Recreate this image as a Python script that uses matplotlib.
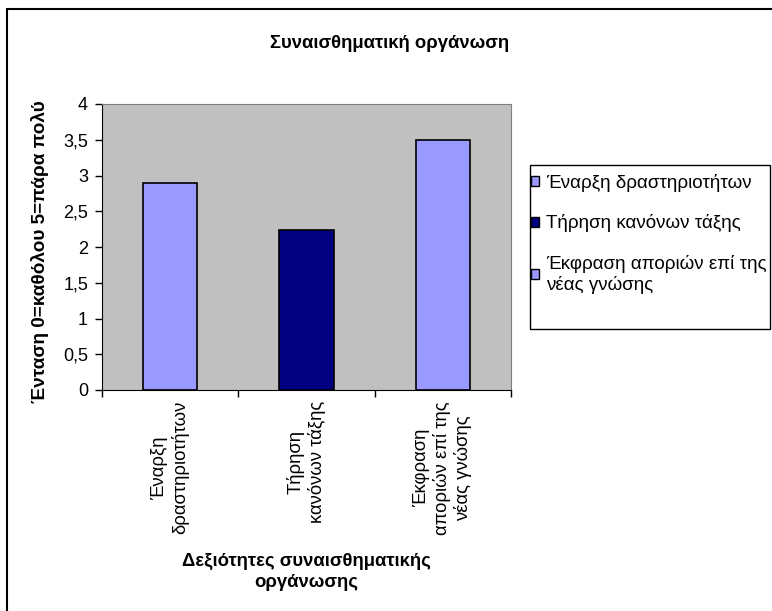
import matplotlib
matplotlib.use("Agg")
import matplotlib.pyplot as plt
from matplotlib.patches import Patch, Rectangle
from matplotlib.ticker import FuncFormatter

plt.rcParams['font.family'] = ['Liberation Sans', 'DejaVu Sans']

# Mean scores per skill
tick_labels = ["Έναρξη\nδραστηριοτήτων",
               "Τήρηση\nκανόνων τάξης",
               "Έκφραση\nαποριών επί της\nνέας γνώσης"]
legend_labels = ["Έναρξη δραστηριοτήτων",
                 "Τήρηση κανόνων τάξης",
                 "Έκφραση αποριών επί της\nνέας γνώσης"]
scores = [2.89, 2.24, 3.5]
bar_colors = ["#9999FF", "#000080", "#9999FF"]

W, H = 772, 611
fig = plt.figure(figsize=(W / 100, H / 100), dpi=100)

# outer chart frame (runs off the right/bottom edge)
fig.patches.append(Rectangle((7 / W, -0.05), 1.0, 1 - 9 / H + 0.05,
                             transform=fig.transFigure, fill=False,
                             edgecolor="black", linewidth=1.5))

ax = fig.add_axes([102 / W, 1 - 390 / H, 409 / W, 286 / H])
ax.set_facecolor("#C0C0C0")

x = range(len(scores))
ax.bar(x, scores, width=0.40, color=bar_colors, edgecolor="black", linewidth=1.2)

ax.set_xlim(-0.5, 2.5)
ax.set_ylim(0, 4)
ax.set_yticks([0, 0.5, 1, 1.5, 2, 2.5, 3, 3.5, 4])
ax.yaxis.set_major_formatter(FuncFormatter(lambda v, p: f"{v:g}".replace(".", ",")))
ax.tick_params(axis="y", labelsize=13, length=5, width=1, pad=5)

# category boundaries carry the ticks, labels sit at the centres
ax.set_xticks([-0.5, 0.5, 1.5, 2.5])
ax.set_xticklabels([])
ax.tick_params(axis="x", which="major", length=5, width=1)
ax.set_xticks(list(x), minor=True)
ax.set_xticklabels(tick_labels, minor=True, rotation=90, fontsize=13.3,
                   ha="center", va="top", multialignment="center")
ax.tick_params(axis="x", which="minor", length=0, pad=8)

for side in ("top", "right"):
    ax.spines[side].set_color("#808080")
for side in ("left", "bottom"):
    ax.spines[side].set_color("black")

fig.text(40 / W, 1 - 252 / H, "Ένταση 0=καθόλου 5=πάρα πολύ", rotation=90,
         ha="center", va="center", fontsize=13.7, fontweight="bold")
fig.text(306 / W, 1 - 572 / H, "Δεξιότητες συναισθηματικής\nοργάνωσης",
         ha="center", va="center", fontsize=13.3, fontweight="bold",
         linespacing=1.35)
fig.text(390 / W, 1 - 44 / H, "Συναισθηματική οργάνωση",
         ha="center", va="center", fontsize=13.3, fontweight="bold")

# legend box
fig.patches.append(Rectangle((530 / W, 1 - 329 / H), 240 / W, 164 / H,
                             transform=fig.transFigure, fill=False,
                             edgecolor="black", linewidth=1))
handles = [Patch(facecolor=c, edgecolor="black", linewidth=1) for c in bar_colors]
fig.legend(handles, legend_labels, loc="upper left",
           bbox_to_anchor=(531 / W, 1 - 174 / H), fontsize=13.5,
           frameon=False, borderaxespad=0, borderpad=0,
           handlelength=0.45, handleheight=0.45, handletextpad=0.35,
           labelspacing=1.2)

fig.savefig("out.png", dpi=100)
